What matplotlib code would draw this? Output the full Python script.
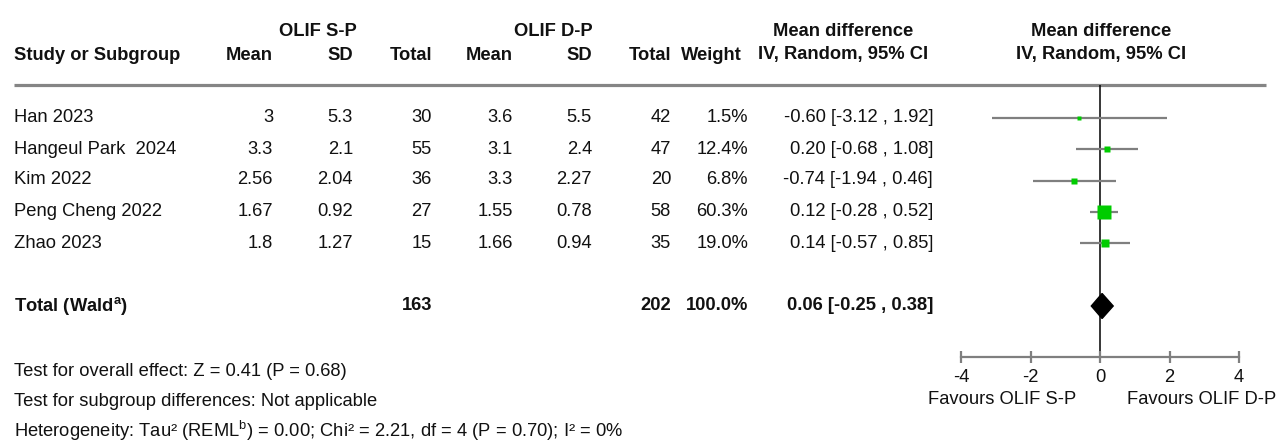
import numpy as np
import matplotlib
matplotlib.use("Agg")
import matplotlib.pyplot as plt

plt.rcParams['font.family'] = ['Liberation Sans', 'DejaVu Sans']
plt.rcParams['mathtext.fontset'] = 'custom'
plt.rcParams['mathtext.rm'] = 'Liberation Sans'
plt.rcParams['mathtext.bf'] = 'Liberation Sans:bold'

# data
studies = ['Han 2023', 'Hangeul Park  2024', 'Kim 2022', 'Peng Cheng 2022', 'Zhao 2023']
sp_mean = [3, 3.3, 2.56, 1.67, 1.8]
sp_sd = [5.3, 2.1, 2.04, 0.92, 1.27]
sp_n = [30, 55, 36, 27, 15]
dp_mean = [3.6, 3.1, 3.3, 1.55, 1.66]
dp_sd = [5.5, 2.4, 2.27, 0.78, 0.94]
dp_n = [42, 47, 20, 58, 35]
weight = [1.5, 12.4, 6.8, 60.3, 19.0]
md = [-0.60, 0.20, -0.74, 0.12, 0.14]
ci_lo = [-3.12, -0.68, -1.94, -0.28, -0.57]
ci_hi = [1.92, 1.08, 0.46, 0.52, 0.85]

total_sp = 163
total_dp = 202
total_w = 100.0
total_md = 0.06
total_lo = -0.25
total_hi = 0.38

xticks = [-4, -2, 0, 2, 4]
footer = ['Test for overall effect: Z = 0.41 (P = 0.68)',
          'Test for subgroup differences: Not applicable',
          r'Heterogeneity: Tau² (REML$^{\mathrm{b}}$) = 0.00; Chi² = 2.21, df = 4 (P = 0.70); I² = 0%']

W, H = 1278, 442
fig = plt.figure(figsize=(W / 100, H / 100), dpi=100)

# table part, drawn in pixel coordinates
ax = fig.add_axes([0, 0, 1, 1])
ax.set_xlim(0, W)
ax.set_ylim(H, 0)
ax.axis('off')

fs = 13.2
tc = '#111111'
row_y = [118, 149, 180, 211.5, 243]
total_y = 306

# column right edges
col_r = [273, 353, 432, 513, 592, 671, 748, 933]

def t(x, y, s, ha='right', bold=False):
    ax.text(x, y, s, ha=ha, va='center', fontsize=fs, color=tc,
            fontweight='bold' if bold else 'normal')

# headers
t(318, 31, 'OLIF S-P', 'center', True)
t(553, 31, 'OLIF D-P', 'center', True)
t(843, 31, 'Mean difference', 'center', True)
t(1101, 31, 'Mean difference', 'center', True)
t(14, 55, 'Study or Subgroup', 'left', True)
for x, s in zip(col_r[:6] + [742],
                ['Mean', 'SD', 'Total', 'Mean', 'SD', 'Total', 'Weight']):
    t(x, 55, s, 'right', True)
t(843, 55, 'IV, Random, 95% CI', 'center', True)
t(1101, 55, 'IV, Random, 95% CI', 'center', True)

ax.plot([14, 1266], [85, 85], color='#858585', lw=2.3, solid_capstyle='butt')

# study rows
for i, y in enumerate(row_y):
    t(14, y, studies[i], 'left')
    t(col_r[0], y, '{:g}'.format(sp_mean[i]))
    t(col_r[1], y, '{:g}'.format(sp_sd[i]))
    t(col_r[2], y, str(sp_n[i]))
    t(col_r[3], y, '{:g}'.format(dp_mean[i]))
    t(col_r[4], y, '{:g}'.format(dp_sd[i]))
    t(col_r[5], y, str(dp_n[i]))
    t(col_r[6], y, '{:.1f}%'.format(weight[i]))
    t(col_r[7], y, '{:.2f} [{:.2f} , {:.2f}]'.format(md[i], ci_lo[i], ci_hi[i]))

# total row
t(14, total_y, r'Total (Wald$^{\mathbf{a}}$)', 'left', True)
t(col_r[2], total_y, str(total_sp), bold=True)
t(col_r[5], total_y, str(total_dp), bold=True)
t(col_r[6], total_y, '{:.1f}%'.format(total_w), bold=True)
t(col_r[7], total_y, '{:.2f} [{:.2f} , {:.2f}]'.format(total_md, total_lo, total_hi), bold=True)

# footer
for y, s in zip([371, 402, 431], footer):
    t(14, y, s, 'left')

# forest plot axes: -4..4 maps to 961..1239 px, rows in row units
x0, x1 = 961, 1239
y_top, y_bot = 85, 356.7
step = 31.25
fx = fig.add_axes([x0 / W, (H - y_bot) / H, (x1 - x0) / W, (y_bot - y_top) / H])
fx.patch.set_visible(False)
fx.set_xlim(-4, 4)
fx.set_ylim((y_bot - 118) / step, (y_top - 118) / step)
rows = np.arange(len(studies))
total_row = (total_y - 118) / step

fx.axvline(0, color='black', lw=1.1, zorder=1)
for i in rows:
    fx.plot([ci_lo[i], ci_hi[i]], [i, i], color='#7f7f7f', lw=1.6,
            solid_capstyle='butt', zorder=2)
    side = (1.6 * np.sqrt(weight[i]) + 1.2) * 0.72
    fx.plot(md[i], i, marker='s', ms=side, color='#00cc00', mec='none', zorder=3)

hd = 12.5 / step
fx.fill([total_lo, total_md, total_hi, total_md],
        [total_row, total_row - hd, total_row, total_row + hd],
        color='black', zorder=3)

for sp in ['top', 'left', 'right']:
    fx.spines[sp].set_visible(False)
fx.spines['bottom'].set_color('#7f7f7f')
fx.spines['bottom'].set_linewidth(1.6)
fx.set_yticks([])
fx.set_xticks(xticks)
fx.set_xticklabels([str(v) for v in xticks])
fx.tick_params(axis='x', direction='inout', length=9, width=1.6, color='#7f7f7f',
               labelsize=fs, labelcolor=tc, pad=4)

t(1002, 399, 'Favours OLIF S-P', 'center')
t(1202, 399, 'Favours OLIF D-P', 'center')

fig.savefig('out.png', dpi=100)
